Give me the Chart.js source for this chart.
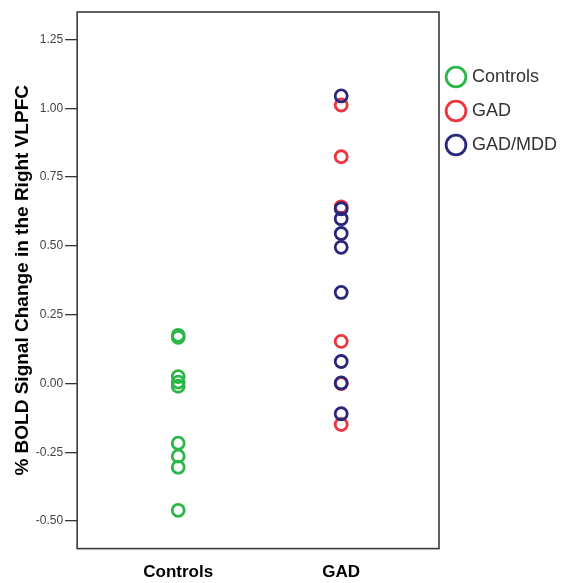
<!DOCTYPE html>
<html>
<head>
<meta charset="utf-8">
<script src="https://cdn.jsdelivr.net/npm/chart.js@4.4.0/dist/chart.umd.min.js"></script>
<style>
  html, body { margin: 0; padding: 0; background: #fff; }
  #wrap { width: 566px; height: 583px; }
</style>
</head>
<body>
<div id="wrap"><canvas id="bold-chart"></canvas></div>
<script>
'use strict';

const groups = ['Controls', 'GAD'];
const seriesNames = ['Controls', 'GAD', 'GAD/MDD'];
const controlsValues = [0.175, 0.168, 0.025, 0.005, -0.01, -0.217, -0.264, -0.304, -0.461];
const gadValues = [1.012, 0.824, 0.642, 0.153, 0.0, -0.149];
const gadMddValues = [1.045, 0.635, 0.599, 0.545, 0.495, 0.331, 0.080, 0.002, -0.110];
const yTickValues = [-0.5, -0.25, 0, 0.25, 0.5, 0.75, 1.0, 1.25];

const seriesColors = ['rgb(44,182,72)', 'rgb(238,52,62)', 'rgb(40,40,122)'];
const fontName = 'Liberation Sans, Arial, sans-serif';

function toPoints(groupIdx, values) {
    return values.map(v => ({ x: groupIdx + 1, y: v }));
}

// draws the box round the plot area, and nudges the legend a bit left
const frameBox = {
    id: 'frameBox',
    afterLayout(chart) {
        chart.legend.left -= 6;
        chart.legend.right -= 6;
    },
    afterDraw(chart) {
        let area = chart.chartArea;
        let ctx = chart.ctx;
        ctx.save();
        ctx.strokeStyle = '#3a3a3a';
        ctx.lineWidth = 1.6;
        ctx.strokeRect(area.left, area.top, area.right - area.left, area.bottom - area.top);
        ctx.restore();
    }
};

const ctx = document.getElementById('bold-chart').getContext('2d');
const boldChart = new Chart(ctx, {
    type: 'scatter',
    data: {
        datasets: [
            { label: seriesNames[0], data: toPoints(0, controlsValues), order: 2 },
            { label: seriesNames[1], data: toPoints(1, gadValues), order: 1 },
            { label: seriesNames[2], data: toPoints(1, gadMddValues), order: 0 }
        ].map((ds, i) => Object.assign(ds, {
            borderColor: seriesColors[i],
            backgroundColor: 'rgba(0,0,0,0)',
            pointRadius: 6,
            pointBorderWidth: 2.8,
            pointHoverRadius: 6
        }))
    },
    options: {
        responsive: true,
        maintainAspectRatio: false,
        animation: false,
        layout: { padding: { left: 5, top: 12, right: -7, bottom: -6 } },
        scales: {
            x: {
                type: 'linear',
                min: 0.38,
                max: 2.6,
                afterBuildTicks: axis => { axis.ticks = groups.map((g, i) => ({ value: i + 1 })); },
                ticks: {
                    callback: v => groups[v - 1],
                    color: '#000',
                    font: { family: fontName, size: 17, weight: 'bold' },
                    padding: 6,
                    maxRotation: 0
                },
                grid: { display: false },
                border: { display: false }
            },
            y: {
                min: -0.6,
                max: 1.35,
                afterBuildTicks: axis => { axis.ticks = yTickValues.map(v => ({ value: v })); },
                ticks: {
                    callback: v => v.toFixed(2),
                    color: '#444',
                    font: { family: fontName, size: 12 },
                    padding: 2
                },
                grid: { drawOnChartArea: false, drawTicks: true, tickLength: 12, color: '#333', lineWidth: 1.3 },
                border: { display: false },
                title: {
                    display: true,
                    text: '% BOLD Signal Change in the Right VLPFC',
                    color: '#000',
                    font: { family: fontName, size: 19, weight: 'bold' },
                    padding: { top: 6, bottom: 0 }
                }
            }
        },
        plugins: {
            legend: {
                position: 'right',
                align: 'start',
                title: { display: true, text: ' ', padding: 14, font: { size: 10 } },
                labels: {
                    usePointStyle: true,
                    boxHeight: 14,
                    boxWidth: 14,
                    padding: 16,
                    color: '#333',
                    font: { family: fontName, size: 18 },
                    sort: (a, b) => a.datasetIndex - b.datasetIndex,
                    generateLabels: chart => chart.data.datasets.map((ds, i) => ({
                        text: ds.label,
                        datasetIndex: i,
                        pointStyle: 'circle',
                        strokeStyle: ds.borderColor,
                        fillStyle: 'rgba(0,0,0,0)',
                        lineWidth: 2.8,
                        fontColor: '#333',
                        hidden: false
                    }))
                }
            },
            tooltip: { enabled: false }
        }
    },
    plugins: [frameBox]
});
</script>
</body>
</html>
